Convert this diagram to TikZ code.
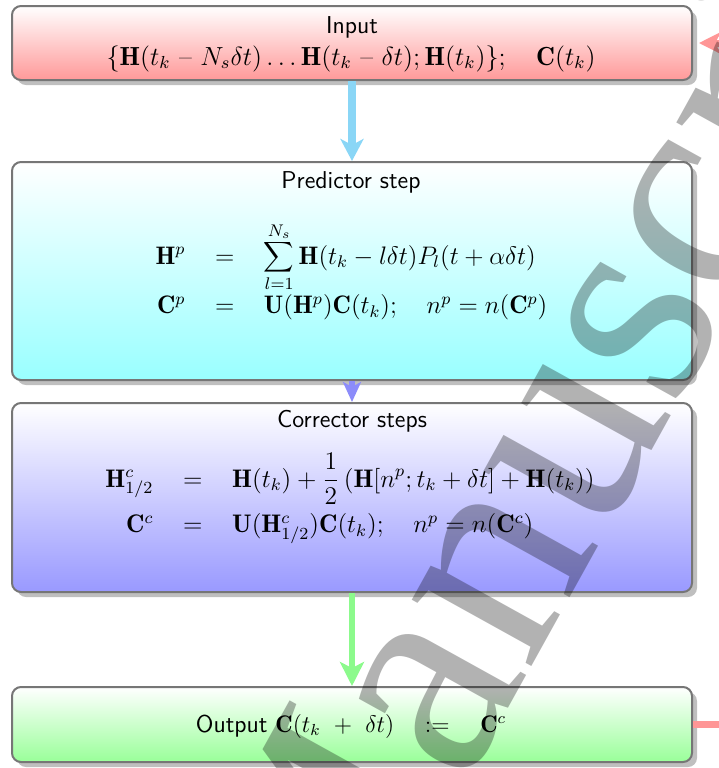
\documentclass[tikz,border=0pt]{standalone}
\usepackage{graphicx}
\usepackage{fontspec}
\newfontfamily\wmfont{Liberation Serif}
\usetikzlibrary{shadows,arrows.meta}
\definecolor{boxgray}{RGB}{118,118,118}
\definecolor{arcyan}{RGB}{138,214,246}
\definecolor{arblue}{RGB}{140,140,250}
\definecolor{argreen}{RGB}{140,250,140}
\definecolor{arred}{RGB}{255,150,150}
\begin{document}
\begin{tikzpicture}[x=0.5pt,y=-0.5pt,
  font=\fontsize{12}{14.4}\selectfont,
  box/.style={draw=boxgray, line width=1pt, rounded corners=4.5pt,
    minimum width=340pt, inner sep=0pt,
    drop shadow={shadow xshift=2.5pt, shadow yshift=-2.5pt, fill=black, opacity=0.25}},
  ttl/.style={font=\fontsize{12.2}{14.64}\selectfont\sffamily, inner sep=0pt, anchor=base},
  eqn/.style={inner sep=0pt, anchor=base, font=\fontsize{12}{14.4}\selectfont},
]
\clip (0,0) rectangle (719,768);
% boxes
\node[box, top color=white, bottom color=red!40, minimum height=37pt] (inbox) at (352,43) {};
\node[box, top color=white, bottom color=cyan!40, minimum height=109pt] (predbox) at (352,271) {};
\node[box, top color=white, bottom color=blue!40, minimum height=94.5pt] (corrbox) at (352,497.5) {};
\node[box, top color=white, bottom color=green!40, minimum height=37.5pt] (outbox) at (352,724.5) {};
% texts
\node[ttl] (intitle) at (352,33) {Input};
\node[eqn] (inmath) at (351,65) {\scalebox{1.09}{$\{\mathbf{H}(t_k\ \mbox{--}\ N_s\delta t)\ldots\mathbf{H}(t_k\ \mbox{--}\ \delta t);\mathbf{H}(t_k)\};\quad \mathbf{C}(t_k)$}};
\node[ttl] (predtitle) at (351,188) {Predictor step};
\node[eqn] (predeq) at (351.5,264) {\scalebox{1.056}{$\arraycolsep=7pt\begin{array}[t]{rcl}
\mathbf{H}^p & = & \displaystyle\sum_{l=1}^{N_s}\mathbf{H}(t_k-l\delta t)P_l(t+\alpha\delta t)\\[6.5pt]
\mathbf{C}^p & = & \mathbf{U}(\mathbf{H}^p)\mathbf{C}(t_k);\quad n^p=n(\mathbf{C}^p)
\end{array}$}};
\node[ttl] (corrtitle) at (352,427) {Corrector steps};
\node[eqn] (correq) at (350,487) {\scalebox{1.06}{$\arraycolsep=7pt\begin{array}[t]{rcl}
\mathbf{H}^c_{1/2} & = & \displaystyle\mathbf{H}(t_k)+\frac{1}{2}\left(\mathbf{H}[n^p;t_k+\delta t]+\mathbf{H}(t_k)\right)\\[7pt]
\mathbf{C}^c & = & \mathbf{U}(\mathbf{H}^c_{1/2})\mathbf{C}(t_k);\quad n^p=n(\mathbf{C}^c)
\end{array}$}};
\node[eqn] (outtext) at (351,732) {{\fontsize{12.2}{14.64}\selectfont\sffamily Output} $\mathbf{C}(t_k\ +\ \delta t)\quad:=\quad\mathbf{C}^c$};
% connectors
\draw[arcyan, line width=3.8pt, -{Stealth[length=11pt,width=11.5pt,inset=3pt]}] (inbox.south) -- (predbox.north);
\draw[arblue, line width=3pt, -{Stealth[length=10pt,width=9pt,inset=2.5pt]}] (predbox.south) -- (corrbox.north);
\draw[argreen, line width=3pt, -{Stealth[length=12pt,width=12pt,inset=3pt]}] (outbox.north |- corrbox.south) -- (outbox.north);
\coordinate (loopx) at (760,0);
\draw[arred, line width=3.5pt, -{Stealth[length=11pt,width=11pt,inset=3pt]}] (outbox.east) -- (outbox.east -| loopx) -- (inbox.east -| loopx) -- ([xshift=3pt]inbox.east);
% watermark
\node[rotate=61, anchor=base west, inner sep=0pt, text=black, opacity=0.3,
  font=\wmfont\fontsize{149pt}{149pt}\selectfont] (wm) at (336,1020) {Manuscript};
\end{tikzpicture}
\end{document}
